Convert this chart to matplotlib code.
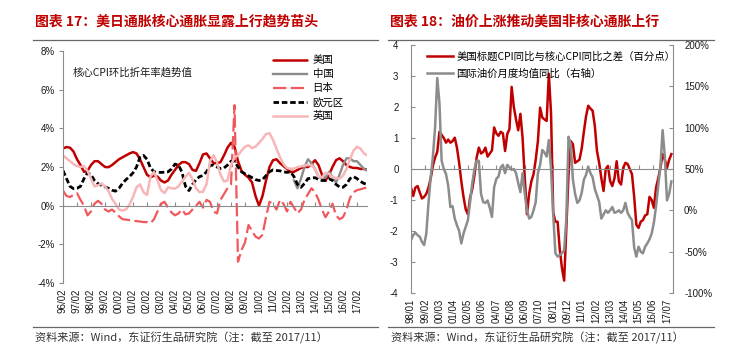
import numpy as np
import matplotlib
matplotlib.use("Agg")
import matplotlib.pyplot as plt
from matplotlib.lines import Line2D
from matplotlib.ticker import FuncFormatter

plt.rcParams['font.family'] = ['Liberation Sans', 'Noto Sans CJK SC']
plt.rcParams['axes.unicode_minus'] = False

# ---------------- Figure 17 data: quarterly from 1996/02 (core CPI trend, %) ----------------
q_start = 1996 + 1 / 12.0
us = [2.96, 3.03, 3.0, 2.8, 2.4, 2.1, 1.75, 1.8, 2.1, 2.3,
      2.3, 2.15, 2.0, 1.99, 2.1, 2.25, 2.4, 2.5, 2.6, 2.7,
      2.77, 2.7, 2.4, 2.0, 1.6, 1.47, 1.55, 1.5, 1.3, 1.2,
      1.3, 1.6, 1.85, 2.1, 2.25, 2.25, 2.15, 1.85, 1.8, 2.2,
      2.65, 2.7, 2.45, 2.2, 2.2, 2.25, 2.6, 3.0, 3.25, 3.05,
      2.3, 1.8, 1.6, 1.45, 1.2, 0.5, 0.0, 0.5, 1.3, 2.0,
      2.35, 2.4, 2.2, 2.05, 1.9, 1.75, 1.75, 1.85, 1.95, 2.0,
      2.0, 2.15, 2.35, 2.1, 1.6, 1.3, 1.6, 2.0, 2.35, 2.45,
      2.3, 2.1, 2.0, 1.95, 1.95, 1.9, 1.9, 1.85]
cn_first_quarter = 66
cn = [1.3, 0.9, 1.4, 2.0, 2.4, 2.2, 1.9, 1.5, 1.4, 1.45,
      1.75, 1.5, 1.2, 1.6, 2.1, 2.45, 2.45, 2.3, 2.3, 2.1,
      1.9, 1.8]
jp = [0.78, 0.5, 0.45, 0.55, 0.65, 0.3, 0.0, -0.5, -0.3, 0.1,
      0.25, 0.1, -0.2, -0.3, -0.2, -0.35, -0.55, -0.7, -0.72, -0.75,
      -0.78, -0.8, -0.82, -0.85, -0.85, -0.9, -0.7, -0.3, 0.1, 0.2,
      -0.1, -0.35, -0.5, -0.4, -0.2, -0.45, -0.4, -0.2, 0.0, 0.2,
      -0.1, 0.3, 0.2, -0.3, -0.4, 0.3, 0.6, 0.9, 1.1, 5.2,
      -2.9, -2.3, -1.9, -1.0, -1.3, -1.6, -1.7, -1.5, -0.6, 0.2,
      0.1, -0.2, 0.3, 0.1, -0.3, 0.2, -0.1, -0.4, -0.2, 0.3,
      0.6, 0.9, 0.7, 0.3, -0.2, -0.6, -0.3, 0.1, -0.5, -0.7,
      -0.6, -0.2, 0.4, 0.7, 0.8, 0.85, 0.9, 0.95]
ea = [1.82, 1.4, 1.0, 0.88, 0.9, 1.0, 1.4, 1.7, 1.6, 1.3,
      1.14, 1.05, 0.97, 0.9, 0.8, 0.75, 0.9, 1.15, 1.35, 1.5,
      1.7, 2.0, 2.5, 2.6, 2.4, 1.95, 1.75, 1.73, 1.72, 1.73,
      1.75, 1.9, 2.15, 2.1, 1.73, 1.0, 0.78, 1.1, 1.35, 1.5,
      1.56, 1.75, 2.08, 2.1, 2.0, 1.92, 1.95, 2.1, 2.3, 2.3,
      2.0, 1.75, 1.65, 1.55, 1.45, 1.35, 1.3, 1.35, 1.55, 1.75,
      1.85, 1.82, 1.8, 1.75, 1.72, 1.75, 1.5, 1.1, 0.95, 1.15,
      1.4, 1.42, 1.45, 1.35, 1.3, 1.3, 1.4, 1.3, 1.1, 0.97,
      0.95, 1.1, 1.4, 1.5, 1.4, 1.25, 1.15, 1.1]
uk = [2.6, 2.45, 2.3, 2.15, 2.05, 2.0, 2.05, 1.8, 1.4, 1.0,
      1.05, 1.15, 1.0, 0.75, 0.35, 0.1, -0.2, -0.25, -0.2, 0.05,
      0.45, 0.95, 1.1, 0.7, 0.55, 1.5, 1.75, 1.3, 0.8, 0.65,
      0.95, 0.9, 0.88, 1.0, 1.25, 1.5, 1.7, 1.35, 0.9, 0.7,
      0.72, 1.1, 2.3, 2.6, 2.25, 1.6, 1.25, 1.3, 2.1, 2.5,
      2.6, 2.85, 3.05, 3.12, 2.98, 3.05, 3.25, 3.45, 3.7, 3.75,
      3.4, 2.95, 2.5, 2.15, 1.95, 1.9, 1.92, 1.99, 2.03, 2.08,
      2.1, 2.1, 1.9, 1.5, 1.45, 1.7, 1.65, 1.48, 1.42, 1.4,
      1.55, 1.9, 2.4, 2.85, 3.05, 2.95, 2.7, 2.6]
left_ticklabels = ["96/02", "97/02", "98/02", "99/02", "00/02", "01/02", "02/02", "03/02",
                   "04/02", "05/02", "06/02", "07/02", "08/02", "09/02", "10/02", "11/02",
                   "12/02", "13/02", "14/02", "15/02", "16/02", "17/02"]
left_names = ["美国", "中国", "日本", "欧元区", "英国"]

# ---------------- Figure 18 data: every 2 months from 1998/01 ----------------
step_months = 2
diff = [-0.6, -0.87, -0.6, -0.55, -0.75, -0.95, -0.9, -0.8, -0.6, -0.3,
        0.1, 0.37, 0.55, 1.2, 1.1, 1.0, 0.85, 0.95, 0.85, 0.9,
        1.01, 0.69, 0.2, -0.4, -0.9, -1.3, -1.46, -0.93, -0.65, -0.2,
        0.37, 0.69, 0.5, 0.55, 0.69, 0.4, 0.5, 0.6, 1.34, 1.15,
        1.07, 1.2, 1.15, 0.58, 1.13, 1.29, 2.65, 2.0, 1.6, 1.25,
        1.78, 1.0, -0.3, -1.46, -0.8, -0.4, -0.17, 0.3, 0.9, 1.98,
        1.66, 1.6, 1.55, 3.07, 1.8, -1.4, -1.7, -1.7, -2.6, -3.2,
        -3.6, -1.9, -0.17, 0.9, 0.8, 0.2, 0.25, 0.3, 0.65, 1.2,
        1.7, 2.04, 1.95, 1.88, 1.4, 0.58, 0.2, -0.3, -0.71, 0.0,
        0.1, -0.39, -0.55, -0.3, 0.25, -0.4, -0.5, 0.04, 0.2, 0.16,
        0.0, -0.17, -0.9, -1.8, -1.9, -1.7, -1.65, -1.5, -1.46, -0.9,
        -1.0, -1.25, -0.6, -0.3, 0.04, 0.48, 0.3, 0.04, 0.3, 0.48]
oil = [-36, -30, -27, -30, -32, -38, -42, -28, 9, 40,
       65, 100, 160, 130, 60, 50, 44, 30, 4, 5,
       -10, -18, -25, -40, -28, -20, -12, 10, 33, 50,
       60, 60, 20, 10, 9, 12, 3, -8, 28, 38,
       41, 52, 55, 45, 55, 52, 49, 50, 45, 33,
       22, 45, 20, 0, -10, -8, 0, 10, 45, 55,
       73, 70, 65, 85, 50, -5, -52, -56, -54, -52,
       -48, -10, 89, 80, 37, 20, 9, 12, 21, 37,
       43, 53, 45, 40, 26, 18, 10, -10, -5, 0,
       -3, 0, 4, -3, -2, 0, -3, 0, 9, -3,
       -8, -12, -45, -56, -44, -50, -52, -44, -40, -35,
       -28, -15, 5, 30, 53, 97, 65, 12, 20, 35]
right_ticklabels = ["98/01", "99/02", "00/03", "01/04", "02/05", "03/06", "04/07", "05/08",
                    "06/09", "07/10", "08/11", "09/12", "11/01", "12/02", "13/03", "14/04",
                    "15/05", "16/06", "17/07"]
right_tick_step = 13
right_names = ["美国标题CPI同比与核心CPI同比之差（百分点）", "国际油价月度均值同比（右轴）"]

# ---------------- styling ----------------
W, H = 740, 363
fig = plt.figure(figsize=(W / 100, H / 100), dpi=100)
fig.patch.set_facecolor("white")
AX_C = "#8c8c8c"
RED = "#C00000"
TXT = "#1a1a1a"
CJK = ["Noto Sans CJK SC", "DejaVu Sans"]


def fx(px):
    return px / W


def fy(py):
    return 1 - py / H


# ---- left chart ----
ax1 = fig.add_axes([fx(63), fy(283), fx(367 - 63), (283 - 51) / H])
xq = q_start + 0.25 * np.arange(len(us))
xcn = q_start + 0.25 * (cn_first_quarter + np.arange(len(cn)))
l_us, = ax1.plot(xq, us, color=RED, lw=1.8, solid_capstyle="round")
l_cn, = ax1.plot(xcn, cn, color="#8c8c8c", lw=1.7)
l_jp, = ax1.plot(xq, jp, color="#F0585C", lw=1.6, dashes=(6, 2))
l_ea, = ax1.plot(xq, ea, color="#000000", lw=2.0, dashes=(2.0, 1.0))
l_uk, = ax1.plot(xq, uk, color="#F7B7B9", lw=1.8)

ax1.set_xlim(q_start, q_start + (367 - 63) / 14.0)
ax1.set_ylim(-4, 8)
ax1.set_yticks([-4, -2, 0, 2, 4, 6, 8])
ax1.yaxis.set_major_formatter(FuncFormatter(lambda v, p: f"{int(v)}%"))
for s in ["top", "right"]:
    ax1.spines[s].set_visible(False)
ax1.spines["left"].set_color(AX_C)
ax1.spines["bottom"].set_color(AX_C)
ax1.spines["bottom"].set_position(("data", 0))
ltick_pos = q_start + np.arange(len(left_ticklabels))
ax1.set_xticks(ltick_pos)
ax1.tick_params(axis="x", direction="in", length=3, color=AX_C, labelbottom=False)
ax1.tick_params(axis="y", direction="out", length=3, color=AX_C, labelsize=7, pad=3, labelcolor=TXT)
sec1 = ax1.secondary_xaxis("bottom")
sec1.set_xticks(ltick_pos, left_ticklabels)
sec1.tick_params(length=0, pad=4, labelsize=7, rotation=90, labelcolor=TXT)
sec1.spines["bottom"].set_visible(False)

ax1.legend([l_us, l_cn, l_jp, l_ea, l_uk], left_names, loc="upper left",
           bbox_to_anchor=(fx(273), fy(55.5)), bbox_transform=fig.transFigure,
           frameon=False, prop={"family": CJK, "size": 7.5}, handlelength=3.3,
           handletextpad=0.5, labelspacing=0.38, borderpad=0, borderaxespad=0)
fig.text(fx(73), fy(72), "核心CPI环比折年率趋势值", fontsize=7.5, family=CJK,
         color=TXT, va="center", ha="left")

# ---- right chart ----
ax2 = fig.add_axes([fx(411), fy(293), fx(673 - 411), (293 - 45) / H])
ax3 = ax2.twinx()
xm = step_months * np.arange(len(diff))
l_diff, = ax2.plot(xm, diff, color=RED, lw=1.8)
l_oil, = ax3.plot(xm, oil, color="#8c8c8c", lw=1.8)
ax2.set_xlim(0, (673 - 411) / 1.094)
ax2.set_ylim(-4, 4)
ax3.set_ylim(-100, 200)
ax2.set_yticks(np.arange(-4, 5, 1))
ax3.set_yticks(np.arange(-100, 201, 50))
ax3.yaxis.set_major_formatter(FuncFormatter(lambda v, p: f"{int(v)}%"))
for s in ["top", "right"]:
    ax2.spines[s].set_visible(False)
for s in ["top", "left", "bottom"]:
    ax3.spines[s].set_visible(False)
ax2.spines["left"].set_color(AX_C)
ax3.spines["right"].set_color(AX_C)
ax2.spines["bottom"].set_color(AX_C)
ax2.spines["bottom"].set_position(("data", 0))
rtick_pos = right_tick_step * np.arange(len(right_ticklabels))
ax2.set_xticks(rtick_pos)
ax2.tick_params(axis="x", direction="in", length=3, color=AX_C, labelbottom=False)
ax2.tick_params(axis="y", direction="in", length=3, color=AX_C, labelsize=7, pad=9, labelcolor=TXT)
ax3.tick_params(axis="y", direction="in", length=3, color=AX_C, labelsize=7, pad=8, labelcolor=TXT)
sec2 = ax2.secondary_xaxis("bottom")
sec2.set_xticks(rtick_pos, right_ticklabels)
sec2.tick_params(length=0, pad=4, labelsize=7, rotation=90, labelcolor=TXT)
sec2.spines["bottom"].set_visible(False)

ax3.legend([l_diff, l_oil], right_names, loc="upper left",
           bbox_to_anchor=(fx(427), fy(51.5)), bbox_transform=fig.transFigure,
           frameon=False, prop={"family": CJK, "size": 7.5}, handlelength=2.5,
           handletextpad=0.3, labelspacing=0.65, borderpad=0, borderaxespad=0)

# ---- titles, rules, sources ----
fig.text(fx(35), fy(22), "图表 17：美日通胀核心通胀显露上行趋势苗头", color=RED, fontsize=10,
         fontweight="bold", family=CJK, va="center", ha="left")
fig.text(fx(390), fy(22), "图表 18：油价上涨推动美国非核心通胀上行", color=RED, fontsize=10,
         fontweight="bold", family=CJK, va="center", ha="left")
for x0, x1 in [(33, 378), (388, 714)]:
    fig.add_artist(Line2D([fx(x0), fx(x1)], [fy(39.5), fy(39.5)], color="#666666", lw=0.9))
    fig.add_artist(Line2D([fx(x0), fx(x1)], [fy(327), fy(327)], color="#666666", lw=0.9))
src = "资料来源：Wind，东证衍生品研究院（注：截至 2017/11）"
fig.text(fx(35), fy(338), src, fontsize=8, family=CJK, color="#333333", va="center", ha="left")
fig.text(fx(391), fy(338), src, fontsize=8, family=CJK, color="#333333", va="center", ha="left")

fig.savefig("out.png", dpi=100, facecolor="white")
